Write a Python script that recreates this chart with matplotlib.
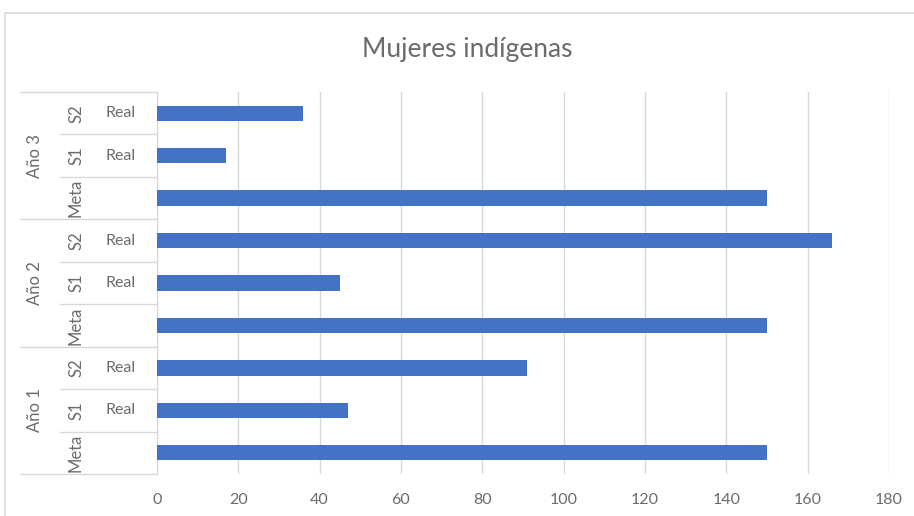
import numpy as np
import matplotlib
matplotlib.use('Agg')
from matplotlib import pyplot as plt
from matplotlib.patches import Rectangle
import matplotlib.transforms as mtransforms

matplotlib.rcParams['font.family'] = ['Lato', 'DejaVu Sans']

# datos (de abajo hacia arriba)
anios = ['Año 1', 'Año 2', 'Año 3']
semestres = ['Meta', 'S1', 'S2']
tipos = ['', 'Real', 'Real']
valores = [150, 47, 91,
           150, 45, 166,
           150, 17, 36]
xticks = [0, 20, 40, 60, 80, 100, 120, 140, 160, 180]

gris_txt = '#6B6B6B'
gris_lin = '#D9D9D9'
azul = '#4472C4'

fig = plt.figure(figsize=(9.14, 5.16), dpi=100)
fig.patch.set_facecolor('white')

# marco del gráfico
W, H = 914, 516
fig.patches.append(Rectangle((5 / W, -0.01), 1.01 - 5 / W, 1.01 - 13 / H, transform=fig.transFigure,
                             fill=False, edgecolor=gris_lin, linewidth=1.2))

ax = fig.add_axes([157 / W, 1 - 474 / H, (889 - 157) / W, (474 - 92) / H])
n = len(valores)
pos = np.arange(n)
ax.barh(pos, valores, height=0.36, color=azul, zorder=3)

ax.set_xlim(0, 180)
ax.set_ylim(-0.5, n - 0.5)
ax.set_xticks(xticks)
ax.set_xticklabels([str(t) for t in xticks], fontsize=11.5, color=gris_txt)
ax.tick_params(axis='x', length=0, pad=14)
ax.set_yticks([])
ax.grid(axis='x', color=gris_lin, linewidth=1, zorder=0)
for s in ['top', 'right', 'bottom']:
    ax.spines[s].set_visible(False)
ax.spines['left'].set_color(gris_lin)

# eje de categorías en varios niveles
tr = mtransforms.blended_transform_factory(ax.transAxes, ax.transData)
x_anio = (20 - 157) / 732
x_sem = (60 - 157) / 732
ng = len(semestres)
for g, anio in enumerate(anios):
    base = g * ng
    ax.text((35 - 157) / 732, base + (ng - 1) / 2, anio, transform=tr, rotation=90,
            ha='center', va='center', fontsize=12, color=gris_txt)
    for k in range(ng):
        i = base + k
        ax.text((76 - 157) / 732, i, semestres[k], transform=tr, rotation=90,
                ha='center', va='center', fontsize=12, color=gris_txt)
        if tipos[k]:
            ax.text((121 - 157) / 732, i, tipos[k], transform=tr,
                    ha='center', va='center', fontsize=11.5, color=gris_txt)
        if k > 0:
            ax.plot([x_sem, 0], [i - 0.5, i - 0.5], transform=tr, color=gris_lin,
                    linewidth=1, clip_on=False)
    ax.plot([x_anio, 0], [base - 0.5, base - 0.5], transform=tr, color=gris_lin,
            linewidth=1, clip_on=False)
ax.plot([x_anio, 0], [n - 0.5, n - 0.5], transform=tr, color=gris_lin,
        linewidth=1, clip_on=False)

fig.text(467 / W, 1 - 49 / H, 'Mujeres indígenas', ha='center', va='center',
         fontsize=19, color=gris_txt)

fig.savefig('out.png', dpi=100)
